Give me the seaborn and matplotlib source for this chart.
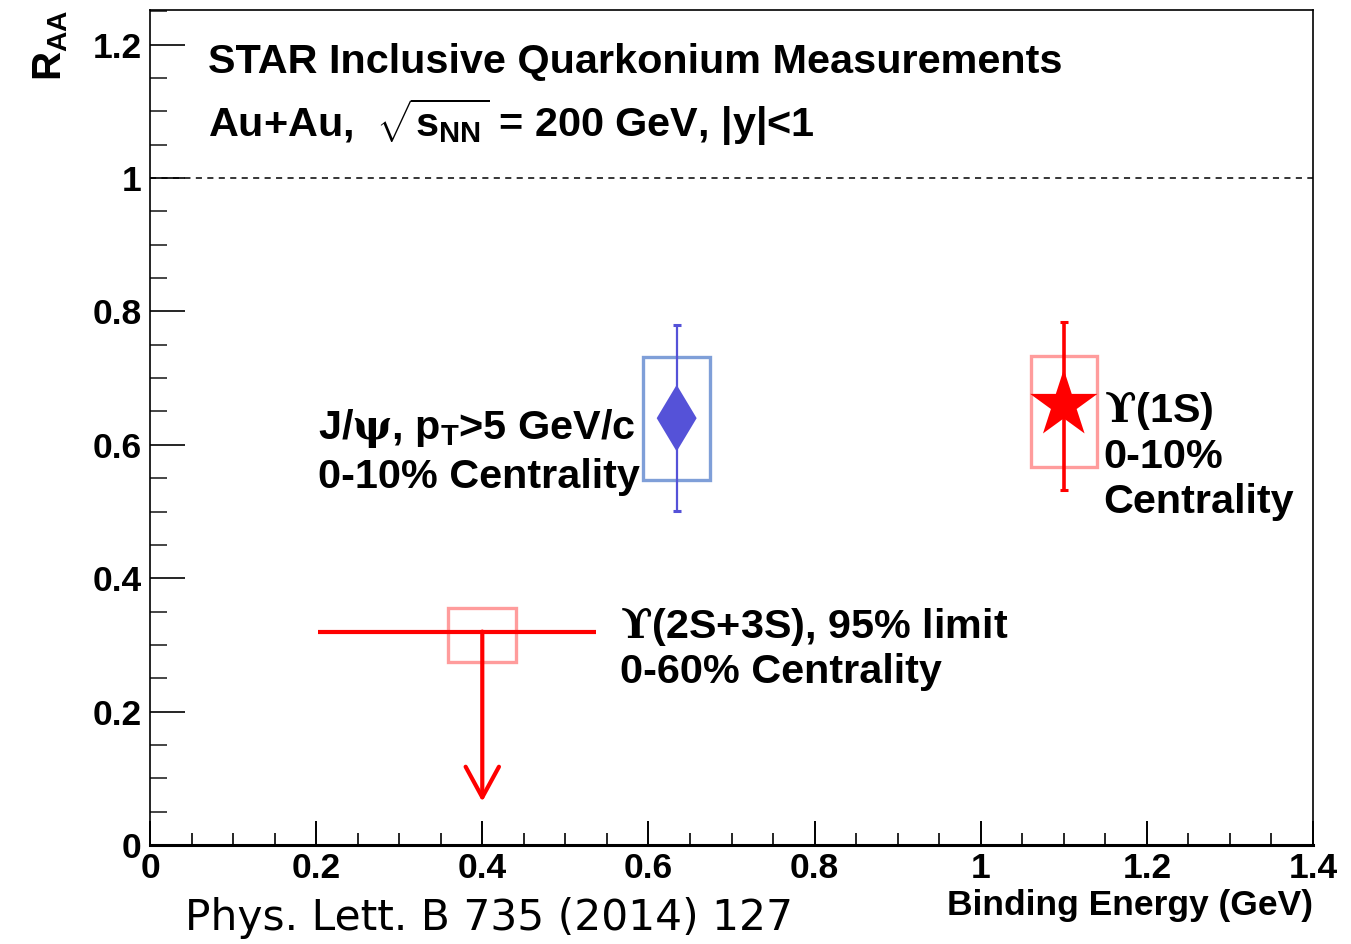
import numpy as np
import pandas as pd
import matplotlib
matplotlib.use('Agg')
import matplotlib.pyplot as plt
import seaborn as sns
from matplotlib.patches import Rectangle
from matplotlib.ticker import MultipleLocator, FuncFormatter

# ---- data ----
state = ['J/psi', 'Upsilon(1S)']
binding_energy = [0.634, 1.10]
raa = [0.640, 0.660]
stat_low = [0.139, 0.128]
stat_high = [0.140, 0.124]
syst_low = [0.093, 0.093]
syst_high = [0.092, 0.073]
box_halfwidth = [0.040, 0.040]

limit_energy = 0.40
limit_raa = 0.32
limit_xrange = [0.202, 0.537]
limit_box_halfwidth = 0.041
limit_syst_low = 0.046
limit_syst_high = 0.035
limit_arrow_end = 0.065

x_ticks = [0, 0.2, 0.4, 0.6, 0.8, 1.0, 1.2, 1.4]
y_ticks = [0, 0.2, 0.4, 0.6, 0.8, 1.0, 1.2]

df = pd.DataFrame({'state': state, 'E': binding_energy, 'RAA': raa,
                   'slo': stat_low, 'shi': stat_high,
                   'ylo': syst_low, 'yhi': syst_high, 'hw': box_halfwidth})

sns.set_theme(style='white')
plt.rcParams['font.family'] = ['Liberation Sans', 'DejaVu Sans']
plt.rcParams['font.weight'] = 'bold'
plt.rcParams['text.color'] = 'black'
plt.rcParams['mathtext.fontset'] = 'custom'
plt.rcParams['mathtext.rm'] = 'DejaVu Serif'
plt.rcParams['mathtext.it'] = 'DejaVu Serif:italic'
plt.rcParams['mathtext.bf'] = 'Liberation Sans:bold'

W, H = 1351, 944
fig = plt.figure(figsize=(W / 100, H / 100), dpi=100)
ax = fig.add_axes([150 / W, 99 / H, 1163 / W, 835 / H])
ax.set_facecolor('white')

jpsi_col = '#5552d8'
jpsi_box = '#7f9fd8'
ups_col = '#ff0000'
ups_box = '#ff9c9c'
colors = {'J/psi': jpsi_col, 'Upsilon(1S)': ups_col}
box_colors = {'J/psi': jpsi_box, 'Upsilon(1S)': ups_box}
elw = {'J/psi': 1.6, 'Upsilon(1S)': 2.6}
caps = {'J/psi': 2.6, 'Upsilon(1S)': 3.2}

# systematic boxes and statistical error bars
for _, r in df.iterrows():
    ax.add_patch(Rectangle((r.E - r.hw, r.RAA - r.ylo), 2 * r.hw, r.ylo + r.yhi,
                           fill=False, ec=box_colors[r.state], lw=2.4, zorder=2))
    ax.errorbar([r.E], [r.RAA], yerr=[[r.slo], [r.shi]], fmt='none',
                ecolor=colors[r.state], elinewidth=elw[r.state],
                capsize=caps[r.state], capthick=2.2, zorder=3)

# markers
sns.scatterplot(data=df[df.state == 'J/psi'], x='E', y='RAA', marker='d', s=1150,
                color=jpsi_col, edgecolor='none', ax=ax, legend=False, zorder=4)
sns.scatterplot(data=df[df.state == 'Upsilon(1S)'], x='E', y='RAA', marker='*', s=2600,
                color=ups_col, edgecolor='none', ax=ax, legend=False, zorder=4)

# upper limit
ax.add_patch(Rectangle((limit_energy - limit_box_halfwidth, limit_raa - limit_syst_low),
                       2 * limit_box_halfwidth, limit_syst_low + limit_syst_high,
                       fill=False, ec=ups_box, lw=2.4, zorder=2))
ax.plot(limit_xrange, [limit_raa, limit_raa], color=ups_col, lw=3, zorder=3,
        solid_capstyle='butt')
ax.annotate('', xy=(limit_energy, limit_arrow_end), xytext=(limit_energy, limit_raa),
            arrowprops=dict(arrowstyle='->,head_length=1.1,head_width=0.6',
                            mutation_scale=20, lw=3, color=ups_col,
                            shrinkA=0, shrinkB=0), zorder=3)

# reference line
ax.axhline(1.0, color='black', lw=1.1, ls=(0, (4, 3.5)), zorder=1)

# axes
ax.set_xlim(0, 1.4)
ax.set_ylim(0, 1.252)
ax.xaxis.set_major_locator(MultipleLocator(0.2))
ax.xaxis.set_minor_locator(MultipleLocator(0.05))
ax.yaxis.set_major_locator(MultipleLocator(0.2))
ax.yaxis.set_minor_locator(MultipleLocator(0.05))
fmt = FuncFormatter(lambda v, p: '%g' % round(v, 2))
ax.xaxis.set_major_formatter(fmt)
ax.yaxis.set_major_formatter(fmt)
ax.tick_params(axis='y', which='major', direction='in', length=25, width=1.2,
               labelsize=25.5, pad=6, left=True, right=False, colors='black')
ax.tick_params(axis='y', which='minor', direction='in', length=12, width=1.2,
               left=True, right=False)
ax.tick_params(axis='x', which='major', direction='in', length=17, width=1.4,
               labelsize=25.5, pad=5, bottom=True, top=False, colors='black')
ax.tick_params(axis='x', which='minor', direction='in', length=9, width=1.4,
               bottom=True, top=False)
for s in ['top', 'right', 'left']:
    ax.spines[s].set_linewidth(1.2)
    ax.spines[s].set_color('black')
ax.spines['bottom'].set_linewidth(2.2)
ax.spines['bottom'].set_color('black')
ax.set_xlabel('')
ax.set_ylabel('')

# axis titles
fig.text(1313 / W, 1 - 905 / H, 'Binding Energy (GeV)', ha='right', va='center',
         fontsize=25.5, fontweight='bold')
fig.text(50 / W, 1 - 10 / H, r'$\mathbf{R}_{\mathbf{AA}}$', rotation=90,
         ha='center', va='top', fontsize=29)

# annotations
fs = 29.8
ax.text(0.070, 1.174, 'STAR Inclusive Quarkonium Measurements', fontsize=fs,
        fontweight='bold', va='center', ha='left')
ax.text(0.070, 1.084, r'Au+Au,  $\sqrt{\mathbf{s}_{\mathbf{NN}}}$ = 200 GeV, |y|<1',
        fontsize=fs, fontweight='bold', va='center', ha='left')
ax.text(0.202, 0.625, r'J/$\mathrm{\psi}$, $\mathbf{p}_{\mathbf{T}}$>5 GeV/c',
        fontsize=fs, fontweight='bold', va='center', ha='left')
ax.text(0.202, 0.552, '0-10% Centrality', fontsize=fs, fontweight='bold',
        va='center', ha='left')
ax.text(1.148, 0.652, r'$\mathrm{ϒ}$(1S)', fontsize=fs, fontweight='bold',
        va='center', ha='left')
ax.text(1.148, 0.582, '0-10%', fontsize=fs, fontweight='bold', va='center', ha='left')
ax.text(1.148, 0.514, 'Centrality', fontsize=fs, fontweight='bold', va='center', ha='left')
ax.text(0.566, 0.328, r'$\mathrm{ϒ}$(2S+3S), 95% limit', fontsize=fs,
        fontweight='bold', va='center', ha='left')
ax.text(0.566, 0.259, '0-60% Centrality', fontsize=fs, fontweight='bold',
        va='center', ha='left')

fig.text(185 / W, 1 - 918 / H, 'Phys. Lett. B 735 (2014) 127', ha='left', va='center',
         fontsize=30.5, fontweight='normal', family='DejaVu Sans')

fig.savefig('out.png', dpi=100, facecolor='white')
